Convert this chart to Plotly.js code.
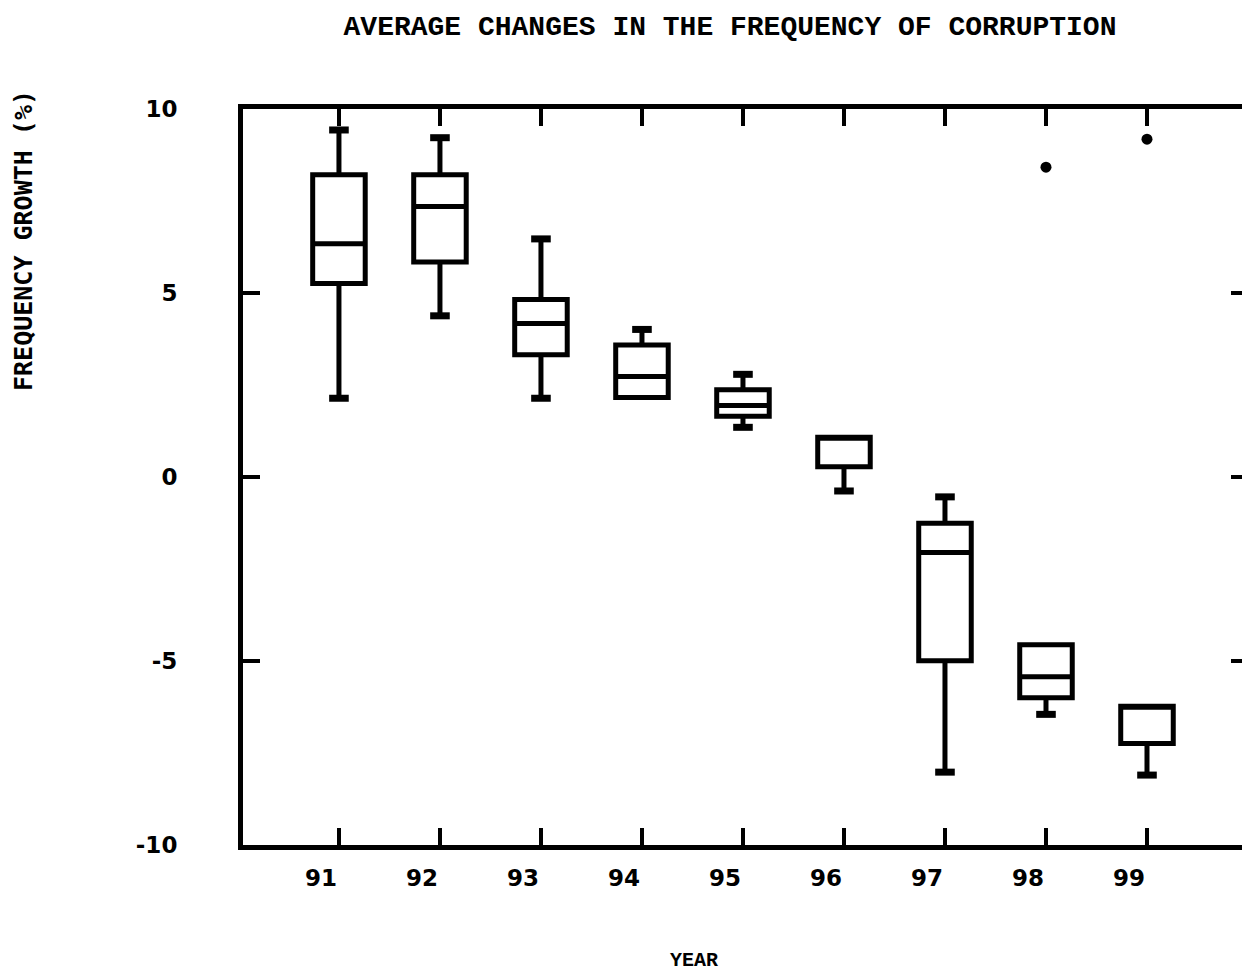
<!DOCTYPE html>
<html>
<head>
<meta charset="utf-8">
<script src="https://cdn.plot.ly/plotly-3.0.1.min.js"></script>
<style>html,body{margin:0;padding:0;overflow:hidden;background:#fff;}</style>
</head>
<body>
<div id="chart"></div>
<script>
// Data
var years = [91, 92, 93, 94, 95, 96, 97, 98, 99];
var lowerWhisker = [2.14, 4.38, 2.14, 2.16, 1.35, -0.38, -8.02, -6.45, -8.10];
var q1Values     = [5.26, 5.84, 3.32, 2.16, 1.65, 0.28, -4.99, -6.00, -7.24];
var medianValues = [6.34, 7.35, 4.17, 2.73, 1.94, 1.08, -2.05, -5.43, -6.23];
var q3Values     = [8.21, 8.21, 4.82, 3.59, 2.37, 1.08, -1.26, -4.56, -6.23];
var upperWhisker = [9.43, 9.22, 6.47, 4.01, 2.79, 1.08, -0.54, -4.56, -6.23];
var outlierYears = [98, 99];
var outlierValues = [8.42, 9.18];
var xTicks = [91, 92, 93, 94, 95, 96, 97, 98, 99];
var yTicks = [-10, -5, 0, 5, 10];

var W = 1260, H = 974;
var ML = 243, MR = 12, MT = 109, MB = 129;

var boxTrace = {
  type: 'box',
  x: years,
  q1: q1Values,
  median: medianValues,
  q3: q3Values,
  lowerfence: lowerWhisker,
  upperfence: upperWhisker,
  boxpoints: false,
  width: 0.52,
  whiskerwidth: 0.3,
  line: {color: '#000', width: 5},
  fillcolor: 'rgba(255,255,255,0)',
  showlegend: false,
  hoverinfo: 'skip'
};

// thick whisker caps, only where the whisker extends beyond the box
var capX = [], capY = [];
years.forEach(function (yr, i) {
  if (upperWhisker[i] > q3Values[i]) { capX.push(yr); capY.push(upperWhisker[i]); }
  if (lowerWhisker[i] < q1Values[i]) { capX.push(yr); capY.push(lowerWhisker[i]); }
});
var capTrace = {
  type: 'scatter', mode: 'markers', x: capX, y: capY,
  marker: {symbol: 'line-ew', size: 14, color: '#000', line: {color: '#000', width: 7}},
  showlegend: false, hoverinfo: 'skip'
};
var outTrace = {
  type: 'scatter',
  mode: 'markers',
  x: outlierYears,
  y: outlierValues,
  marker: {color: '#000', size: 11},
  showlegend: false,
  hoverinfo: 'skip'
};
var axisCommon = {
  showline: true, linecolor: '#000', linewidth: 5,
  ticks: 'inside', ticklen: 17, tickwidth: 4, tickcolor: '#000',
  mirror: 'ticks', showgrid: false, zeroline: false,
  tickfont: {family: 'DejaVu Sans', size: 23, color: '#000', weight: 'bold'}
};
var PW = W - ML - MR, PH = H - MT - MB;
var layout = {
  width: W, height: H,
  margin: {l: ML, r: MR, t: MT, b: MB},
  paper_bgcolor: '#fff', plot_bgcolor: '#fff',
  title: {
    text: 'AVERAGE CHANGES IN THE FREQUENCY OF CORRUPTION',
    font: {family: 'Liberation Mono', size: 28, color: '#000', weight: 'bold'},
    xref: 'container', yref: 'container',
    x: 730 / W, y: 1 - 25 / H, xanchor: 'center', yanchor: 'middle'
  },
  xaxis: Object.assign({}, axisCommon, {
    range: [90.05, 100], tickvals: xTicks, ticktext: xTicks.map(String),
    ticklabelshift: -18, ticklabelstandoff: 8
  }),
  yaxis: Object.assign({}, axisCommon, {
    range: [-10, 10], tickvals: yTicks, ticktext: yTicks.map(String),
    ticklabelstandoff: 56
  }),
  annotations: [{
    text: 'FREQUENCY GROWTH (%)',
    xref: 'paper', yref: 'paper',
    x: (23 - ML) / PW, y: 1 - (241 - MT) / PH,
    xanchor: 'center', yanchor: 'middle',
    textangle: -90, showarrow: false,
    font: {family: 'DejaVu Sans Mono', size: 25, color: '#000', weight: 'bold'}
  }, {
    text: 'YEAR',
    xref: 'paper', yref: 'paper',
    x: (694 - ML) / PW, y: 1 - (973 - MT) / PH,
    xanchor: 'center', yanchor: 'bottom',
    showarrow: false, borderpad: 0,
    font: {family: 'Liberation Mono', size: 20, color: '#000', weight: 'bold'}
  }]
};
Plotly.newPlot('chart', [boxTrace, capTrace, outTrace], layout, {staticPlot: true});
</script>
</body>
</html>
